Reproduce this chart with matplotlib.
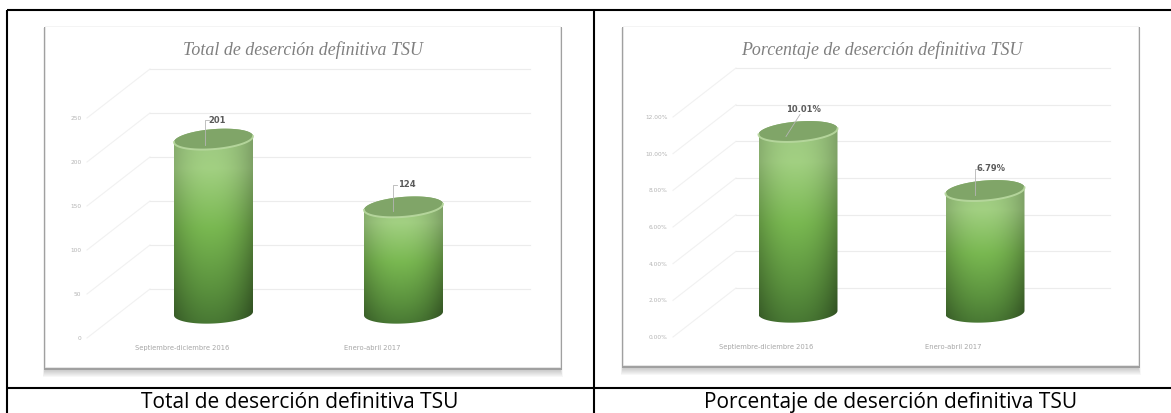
import numpy as np
import matplotlib.pyplot as plt
from matplotlib.patches import Polygon, Rectangle

W, H = 1171, 413

categories = ['Septiembre-diciembre 2016', 'Enero-abril 2017']
total_values = [201, 124]
total_labels = ['201', '124']
total_ticks = [0, 50, 100, 150, 200, 250]
total_ticklabels = ['0', '50', '100', '150', '200', '250']
pct_values = [10.01, 6.79]
pct_labels = ['10.01%', '6.79%']
pct_ticks = [0, 2, 4, 6, 8, 10, 12]
pct_ticklabels = ['0.00%', '2.00%', '4.00%', '6.00%', '8.00%', '10.00%', '12.00%']

def hex2rgb(c):
    return np.array([int(c[i:i+2], 16) / 255 for i in (1, 3, 5)])

# shading of the cylinder body, top to bottom
stops = [0, 0.2, 0.5, 0.8, 1]
cols = np.array([hex2rgb(c) for c in ['#9cc681', '#a2d082', '#79b851', '#5b923e', '#467532']])
vv = np.linspace(0, 1, 200)
uu = np.linspace(-1, 1, 120)
shade = np.zeros((200, 120, 3))
for k in range(3):
    col = np.interp(vv, stops, cols[:, k])
    shade[:, :, k] = col[:, None] * (1 - (0.16 + 0.16 * vv[:, None]) * np.abs(uu[None, :] + 0.08) ** 2.2)
shade = np.clip(shade, 0, 1)

fig = plt.figure(figsize=(W / 100, H / 100), dpi=100)
bg = fig.add_axes([0, 0, 1, 1], zorder=0)
bg.set_xlim(0, W)
bg.set_ylim(H, 0)
bg.axis('off')

# table lines
for xs, ys in [([7, W], [10, 10]), ([7, W], [388, 388]), ([7, 7], [10, H]), ([594, 594], [10, H])]:
    bg.plot(xs, ys, color='black', lw=1.5, solid_capstyle='butt')


def card(x0, x1, y0, y1):
    # soft shadow, heavier below the card
    for i in range(8, 0, -1):
        bg.add_patch(Rectangle((x0 - i * 0.25, y0 + 2), x1 - x0 + i * 0.6, y1 - y0 + i * 1.0,
                               fc='#404040', ec='none', alpha=0.04))
    bg.add_patch(Rectangle((x0 - 1.5, y0 + 1), x1 - x0 + 3.5, y1 - y0 + 2, fc='#a0a0a0', ec='none'))
    bg.add_patch(Rectangle((x0, y0), x1 - x0, y1 - y0, fc='white', ec='#f0f0f0', lw=0.5))


def panel(left, right, y0px, y1px, ticks, ticklabels, values, labels, title, title_x, title_size,
          caption, caption_x, label_off, lead):
    ax = fig.add_axes([left / W, 1 - y0px / H, (right - left) / W, (y0px - y1px) / H], zorder=2)
    ax.patch.set_alpha(0)
    for s in ax.spines.values():
        s.set_visible(False)
    px_x = (right - left) / 2
    px_y = (y0px - y1px) / ticks[-1]
    dx = 63 / px_x
    dy = 49 / px_y

    for t in ticks:
        ax.plot([-0.5, -0.5 + dx], [t, t + dy], color='#f1f1f1', lw=0.8, clip_on=False, zorder=1)
        ax.plot([-0.5 + dx, 1.5 + dx], [t + dy, t + dy], color='#ececec', lw=0.8, clip_on=False, zorder=1)

    a = 39.5 / px_x
    b = 10 / px_y
    tilt = 3 / px_y
    for i, v in enumerate(values):
        cx = i + dx / 2
        base = dy / 2
        top = v + dy / 2 - 2.5 / px_y
        t1 = np.linspace(0, np.pi, 60)
        t2 = np.linspace(np.pi, 2 * np.pi, 60)
        body = np.vstack([
            np.c_[cx + a * np.cos(t1), top + b * np.sin(t1) + tilt * np.cos(t1)],
            np.c_[cx + a * np.cos(t2), base + b * np.sin(t2) + 0.6 * tilt * np.cos(t2)],
        ])
        clip = Polygon(body, closed=True, fc='none', ec='none', clip_on=False)
        ax.add_patch(clip)
        im = ax.imshow(shade, extent=[cx - a, cx + a, base - b * 1.5, top + b], aspect='auto',
                       zorder=3, interpolation='bilinear')
        im.set_clip_path(clip)
        tt = np.linspace(0, 2 * np.pi, 120)
        cap = np.c_[cx + a * np.cos(tt), top + b * np.sin(tt) + tilt * np.cos(tt)]
        ax.add_patch(Polygon(cap, closed=True, fc='#80a568', ec='none', zorder=4, clip_on=False))
        tl = np.linspace(np.pi, 2 * np.pi, 60)
        ax.plot(cx + a * np.cos(tl), top + b * np.sin(tl) + tilt * np.cos(tl), color='#b9d9a0', lw=1.4,
                alpha=0.9, zorder=5, clip_on=False)
        # data label and its leader line
        pts = np.array(lead[i], dtype=float)
        ax.plot(cx + pts[:, 0] / px_x, top + pts[:, 1] / px_y, color='#b5b5b5', lw=0.6,
                zorder=6, clip_on=False)
        ax.annotate(labels[i], xy=(cx, top), xytext=label_off[i], textcoords='offset pixels',
                    ha='center', va='center', fontsize=6, fontweight='bold', color='#5a5a5a',
                    zorder=7, annotation_clip=False)

    ax.set_xlim(-0.5, 1.5)
    ax.set_ylim(0, ticks[-1])
    ax.set_xticks([0, 1])
    ax.set_xticklabels(categories, fontsize=4.85, color='#a6a6a6')
    ax.set_yticks(ticks)
    ax.set_yticklabels(ticklabels, fontsize=4.2, color='#b4b4b4')
    ax.tick_params(length=0)
    ax.tick_params(axis='y', pad=4)
    ax.tick_params(axis='x', pad=5)
    bg.text(title_x, 50, title, family='Liberation Serif', style='italic', fontsize=title_size,
            color='#7f7f7f', ha='center', va='center')
    bg.text(caption_x, 408, caption, family='Open Sans', fontsize=15, color='black',
            ha='center', va='baseline')


card(45, 560, 26, 367)
card(623, 1138, 26, 365)
panel(87, 467, 338, 118, total_ticks, total_ticklabels, total_values, total_labels,
      'Total de deserción definitiva TSU', 303, 12.9,
      'Total de deserción definitiva TSU', 300, [(4, 19), (3, 22)],
      [[(-9, -6), (-9, 19), (-5, 19)], [(-11, -4), (-11, 22), (-7, 22)]])
panel(673, 1047, 337, 117, pct_ticks, pct_ticklabels, pct_values, pct_labels,
      'Porcentaje de deserción definitiva TSU', 882, 12.9,
      'Porcentaje de deserción definitiva TSU', 891, [(5, 22), (6, 22)],
      [[(-12, -5), (2, 17)], [(-10, -4), (-10, 22), (-6, 22)]])

fig.savefig('out.png', dpi=100)
